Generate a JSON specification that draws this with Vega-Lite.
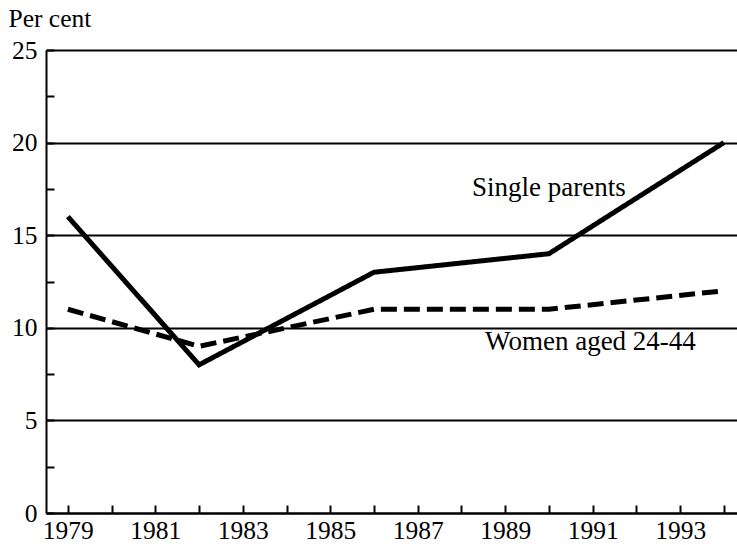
{
  "$schema": "https://vega.github.io/schema/vega-lite/v6.json",
  "autosize": "none",
  "padding": {"left": 46, "top": 50, "right": 0, "bottom": 32},
  "width": 691,
  "height": 463,
  "background": "white",
  "config": {
    "view": {"stroke": null},
    "font": "Liberation Serif",
    "axis": {
      "labelFont": "Liberation Serif",
      "titleFont": "Liberation Serif",
      "labelColor": "black",
      "titleColor": "black",
      "labelFontSize": 25.5,
      "titleFontWeight": "normal",
      "domainColor": "black",
      "domainWidth": 2,
      "tickColor": "black",
      "tickWidth": 2
    }
  },
  "datasets": {
    "series": [
      {"year": 1979, "value": 16, "group": "Single parents"},
      {"year": 1982, "value": 8, "group": "Single parents"},
      {"year": 1986, "value": 13, "group": "Single parents"},
      {"year": 1990, "value": 14, "group": "Single parents"},
      {"year": 1994, "value": 20, "group": "Single parents"},
      {"year": 1979, "value": 11, "group": "Women aged 24-44"},
      {"year": 1982, "value": 9, "group": "Women aged 24-44"},
      {"year": 1986, "value": 11, "group": "Women aged 24-44"},
      {"year": 1990, "value": 11, "group": "Women aged 24-44"},
      {"year": 1994, "value": 12, "group": "Women aged 24-44"}
    ],
    "labels": [
      {"year": 1990.0, "value": 17.55, "text": "Single parents"},
      {"year": 1990.95, "value": 9.23, "text": "Women aged 24-44"}
    ]
  },
  "layer": [
    {
      "data": {"name": "series"},
      "mark": {"type": "line", "strokeWidth": 5, "color": "black", "clip": true},
      "encoding": {
        "x": {
          "field": "year",
          "type": "quantitative",
          "scale": {"domain": [1978.5, 1994.3], "nice": false, "zero": false},
          "axis": {
            "title": null,
            "values": [1979, 1980, 1981, 1982, 1983, 1984, 1985, 1986, 1987, 1988, 1989, 1990, 1991, 1992, 1993, 1994],
            "labelExpr": "datum.value % 2 == 1 ? format(datum.value, 'd') : ''",
            "tickSize": -8,
            "labelPadding": 13,
            "labelBaseline": "top",
            "grid": false,
            "labelOverlap": false
          }
        },
        "y": {
          "field": "value",
          "type": "quantitative",
          "scale": {"domain": [0, 25], "nice": false},
          "axis": {
            "title": "Per cent",
            "titleAngle": 0,
            "titleX": -38,
            "titleY": -32,
            "titleAlign": "left",
            "titleBaseline": "middle",
            "titleFontSize": 25.5,
            "values": [0, 2.5, 5, 7.5, 10, 12.5, 15, 17.5, 20, 22.5, 25],
            "labelExpr": "datum.value % 5 == 0 ? format(datum.value, 'd') : ''",
            "tickSize": -8,
            "labelPadding": 17,
            "labelBaseline": "middle",
            "grid": true,
            "gridColor": "black",
            "gridWidth": 2,
            "gridOpacity": {"condition": {"test": "datum.value % 5 == 0", "value": 1}, "value": 0},
            "labelOverlap": false
          }
        },
        "strokeDash": {
          "field": "group",
          "type": "nominal",
          "scale": {"domain": ["Single parents", "Women aged 24-44"], "range": [[1, 0], [16, 7]]},
          "legend": null
        }
      }
    },
    {
      "data": {"name": "labels"},
      "mark": {"type": "text", "fontSize": 27, "font": "Liberation Serif", "color": "black", "align": "center", "baseline": "middle"},
      "encoding": {
        "x": {"field": "year", "type": "quantitative"},
        "y": {"field": "value", "type": "quantitative"},
        "text": {"field": "text"}
      }
    }
  ]
}
